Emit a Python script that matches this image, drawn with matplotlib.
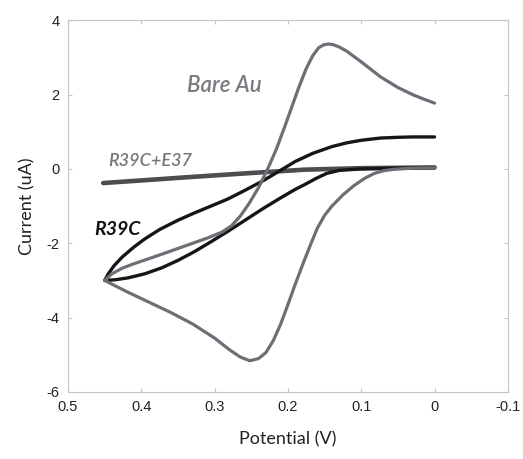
import matplotlib
matplotlib.use("Agg")
import matplotlib.pyplot as plt

plt.rcParams['axes.unicode_minus'] = False

# Bare Au: forward (upper) branch and return (lower) branch
bare_up_x = [0.45, 0.44, 0.426, 0.41, 0.395, 0.37, 0.35, 0.33, 0.31, 0.29, 0.277, 0.265, 0.253,
             0.24, 0.228, 0.216, 0.205, 0.195, 0.185, 0.175, 0.166, 0.158, 0.151, 0.145,
             0.138, 0.13, 0.12, 0.1, 0.074, 0.05, 0.029, 0.015, 0.0]
bare_up_y = [-3.0, -2.82, -2.67, -2.55, -2.45, -2.28, -2.14, -2.0, -1.86, -1.7, -1.53, -1.27, -0.93,
             -0.5, -0.02, 0.52, 1.1, 1.65, 2.2, 2.7, 3.05, 3.26, 3.34, 3.36,
             3.34, 3.28, 3.17, 2.88, 2.48, 2.19, 1.99, 1.88, 1.77]
bare_dn_x = [0.0, 0.03, 0.055, 0.07, 0.082, 0.095, 0.11, 0.125, 0.14, 0.15, 0.16, 0.17,
             0.18, 0.19, 0.2, 0.21, 0.22, 0.23, 0.24, 0.252, 0.265, 0.28, 0.30, 0.33,
             0.36, 0.39, 0.42, 0.45]
bare_dn_y = [0.03, 0.02, -0.01, -0.05, -0.12, -0.25, -0.45, -0.7, -1.0, -1.25, -1.6, -2.08,
             -2.58, -3.1, -3.65, -4.18, -4.62, -4.94, -5.1, -5.16, -5.06, -4.86, -4.55, -4.17,
             -3.86, -3.58, -3.3, -3.0]

# R39C: forward (upper) branch and return (lower) branch
r39c_up_x = [0.45, 0.445, 0.437, 0.426, 0.41, 0.395, 0.375, 0.35, 0.327, 0.305, 0.282, 0.26,
             0.235, 0.211, 0.19, 0.166, 0.14, 0.12, 0.1, 0.074, 0.05, 0.03, 0.0]
r39c_up_y = [-3.0, -2.82, -2.6, -2.37, -2.1, -1.88, -1.63, -1.38, -1.18, -1.0, -0.81, -0.59,
             -0.33, -0.05, 0.2, 0.42, 0.6, 0.7, 0.77, 0.83, 0.85, 0.86, 0.86]
r39c_dn_x = [0.0, 0.05, 0.1, 0.13, 0.147, 0.162, 0.177, 0.19, 0.21, 0.235, 0.26, 0.282,
             0.305, 0.327, 0.35, 0.372, 0.395, 0.418, 0.435, 0.45]
r39c_dn_y = [0.03, 0.02, 0.0, -0.04, -0.12, -0.26, -0.42, -0.55, -0.78, -1.08, -1.4, -1.68,
             -1.96, -2.22, -2.46, -2.66, -2.82, -2.93, -2.98, -3.0]

# R39C+E37 (nearly flat)
e37_x = [0.452, 0.4, 0.327, 0.25, 0.177, 0.1, 0.0]
e37_y = [-0.38, -0.31, -0.21, -0.11, -0.02, 0.02, 0.04]

fig = plt.figure(figsize=(5.23, 4.59), dpi=100)
ax = fig.add_axes([0.130, 0.146, 0.841, 0.810])

ax.plot(e37_x, e37_y, color='#4d4d50', lw=3.3, solid_capstyle='round', zorder=2)
for xs, ys in [(r39c_up_x, r39c_up_y), (r39c_dn_x, r39c_dn_y)]:
    ax.plot(xs, ys, color='#161616', lw=2.4, solid_joinstyle='round',
            solid_capstyle='round', zorder=3)
for xs, ys in [(bare_up_x, bare_up_y), (bare_dn_x, bare_dn_y)]:
    ax.plot(xs, ys, color='#6e6e76', lw=2.3, solid_joinstyle='round',
            solid_capstyle='round', zorder=4)

ax.set_xlim(0.5, -0.1)
ax.set_ylim(-6, 4)
ax.set_xticks([0.5, 0.4, 0.3, 0.2, 0.1, 0, -0.1])
ax.set_xticklabels(['0.5', '0.4', '0.3', '0.2', '0.1', '0', '-0.1'])
ax.set_yticks([4, 2, 0, -2, -4, -6])
ax.set_yticklabels(['4', '2', '0', '-2', '-4', '-6'])

for s in ax.spines.values():
    s.set_color('#c4c4c4')
    s.set_linewidth(0.8)
ax.tick_params(direction='in', length=3, width=0.8, color='#c4c4c4', top=True, right=True,
               labelsize=10.5, labelcolor='#222222', pad=6)
for lab in ax.get_xticklabels() + ax.get_yticklabels():
    lab.set_family('Liberation Sans')

ax.set_xlabel('Potential (V)', family='Lato', fontsize=13, color='#222222', labelpad=12)
ax.set_ylabel('Current (uA)', family='Lato', fontsize=13, color='#222222', labelpad=8)

ax.text(0.287, 2.25, 'Bare Au', family='Lato', style='italic', fontweight='semibold',
        fontsize=16, color='#7a7a80', ha='center', va='center')
ax.text(0.388, 0.2, 'R39C+E37', family='Lato', style='italic', fontweight='semibold',
        fontsize=13, color='#75757b', ha='center', va='center')
ax.text(0.432, -1.62, 'R39C', family='Lato', style='italic', fontweight='bold',
        fontsize=14, color='#111111', ha='center', va='center')

fig.savefig('out.png', dpi=100)
